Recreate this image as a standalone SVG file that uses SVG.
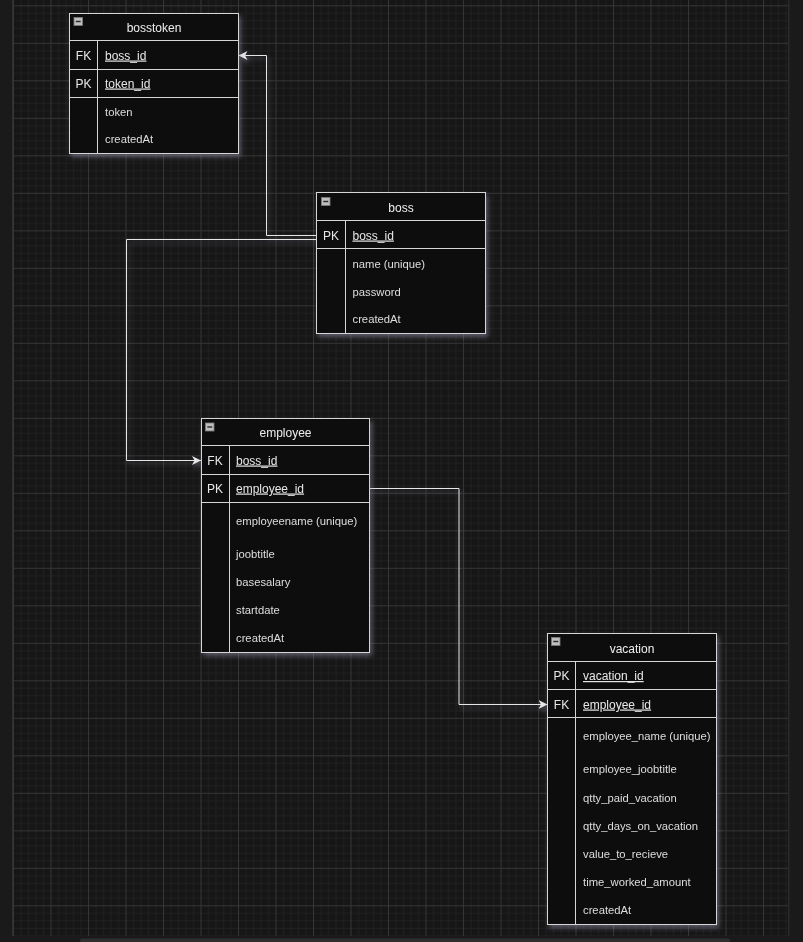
<svg xmlns="http://www.w3.org/2000/svg" width="803" height="942" viewBox="0 0 803 942">
  <defs>
    <style>
      .tbl { fill: #111111; stroke: #d6d6d6; stroke-width: 1; }
      .ln { stroke: #d6d6d6; stroke-width: 1; fill: none; }
      .title { font-family: "Liberation Sans", Arial, sans-serif; font-size: 12px; fill: #ededed; text-anchor: middle; }
      .key { font-family: "Liberation Sans", Arial, sans-serif; font-size: 12px; fill: #e6e6e6; text-anchor: middle; }
      .kattr { font-family: "Liberation Sans", Arial, sans-serif; font-size: 12px; fill: #e6e6e6; text-decoration: underline; }
      .attr { font-family: "Liberation Sans", Arial, sans-serif; font-size: 11.25px; fill: #dcdcdc; }
      .icon { fill: #bdbdbd; stroke: #7a7a7a; stroke-width: 0.8; }
      .iconln { stroke: #2a2a2a; stroke-width: 1.4; }
      .conn { stroke: #e6e6e6; stroke-width: 1; fill: none; }
    </style>
    <pattern id="grid" patternUnits="userSpaceOnUse" x="13" y="5.3" width="37.5" height="37.5">
      <rect x="0" y="0" width="37.5" height="37.5" fill="#161616"/>
      <rect x="7.5" y="0" width="1" height="37.5" fill="#202020"/>
      <rect x="15" y="0" width="1" height="37.5" fill="#202020"/>
      <rect x="22.5" y="0" width="1" height="37.5" fill="#202020"/>
      <rect x="30" y="0" width="1" height="37.5" fill="#202020"/>
      <rect x="0" y="7.5" width="37.5" height="1" fill="#202020"/>
      <rect x="0" y="15" width="37.5" height="1" fill="#202020"/>
      <rect x="0" y="22.5" width="37.5" height="1" fill="#202020"/>
      <rect x="0" y="30" width="37.5" height="1" fill="#202020"/>
      <rect x="0" y="0" width="1" height="37.5" fill="#353535"/>
      <rect x="0" y="0" width="37.5" height="1" fill="#353535"/>
    </pattern>
    <filter id="sh" x="-15%" y="-15%" width="140%" height="140%">
      <feGaussianBlur in="SourceAlpha" stdDeviation="2.5"/>
      <feOffset dx="2" dy="3" result="b"/>
      <feFlood flood-color="#a8a8c8" flood-opacity="0.45"/>
      <feComposite in2="b" operator="in"/>
      <feMerge><feMergeNode/><feMergeNode in="SourceGraphic"/></feMerge>
    </filter>
    <marker id="arr" markerUnits="userSpaceOnUse" markerWidth="10" markerHeight="10" refX="9" refY="4.5" orient="auto">
      <path d="M0,0 L9,4.5 L0,9 L2.5,4.5 Z" fill="#e6e6e6"/>
    </marker>
  </defs>

  <!-- background -->
  <rect x="0" y="0" width="803" height="942" fill="#1a1a1a"/>
  <rect x="12" y="0" width="777" height="936" fill="url(#grid)"/>
  <rect x="12" y="0" width="1" height="936" fill="#303030"/>
  <rect x="788" y="0" width="1.5" height="936" fill="#2a2a2a"/>
  <rect x="80" y="938.5" width="650" height="4" rx="2" fill="#2e2e2e"/>

  <!-- connectors -->
  <g id="connectors" filter="url(#sh)">
    <path class="conn" d="M316.5,235.5 H266.5 V55.5 H238.5" marker-end="url(#arr)"/>
    <path class="conn" d="M316.5,239.5 H126.5 V460.5 H201" marker-end="url(#arr)"/>
    <path class="conn" d="M369.5,488.5 H459 V704.5 H547.5" marker-end="url(#arr)"/>
  </g>

  <!-- bosstoken -->
  <g id="bosstoken" filter="url(#sh)">
    <rect class="tbl" x="69.5" y="13.5" width="169" height="140"/>
    <line class="ln" x1="69.5" y1="40.5" x2="238.5" y2="40.5"/>
    <line class="ln" x1="69.5" y1="69.5" x2="238.5" y2="69.5"/>
    <line class="ln" x1="69.5" y1="97.5" x2="238.5" y2="97.5"/>
    <line class="ln" x1="97.5" y1="40.5" x2="97.5" y2="153.5"/>
    <rect class="icon" x="74" y="17.5" width="8.5" height="8"/>
    <line class="iconln" x1="75.8" y1="21.5" x2="80.7" y2="21.5"/>
    <text class="title" x="154" y="31.5">bosstoken</text>
    <text class="key" x="83.5" y="59.5">FK</text>
    <text class="kattr" x="105" y="59.5">boss_id</text>
    <text class="key" x="83.5" y="87.5">PK</text>
    <text class="kattr" x="105" y="87.5">token_id</text>
    <text class="attr" x="105" y="116">token</text>
    <text class="attr" x="105" y="143">createdAt</text>
  </g>

  <!-- boss -->
  <g id="boss" filter="url(#sh)">
    <rect class="tbl" x="316.5" y="192.5" width="169" height="141"/>
    <line class="ln" x1="316.5" y1="220.5" x2="485.5" y2="220.5"/>
    <line class="ln" x1="316.5" y1="248.5" x2="485.5" y2="248.5"/>
    <line class="ln" x1="345.5" y1="220.5" x2="345.5" y2="333.5"/>
    <rect class="icon" x="321.5" y="197.5" width="8.5" height="8"/>
    <line class="iconln" x1="323.3" y1="201.5" x2="328.2" y2="201.5"/>
    <text class="title" x="401" y="211.5">boss</text>
    <text class="key" x="331" y="239.5">PK</text>
    <text class="kattr" x="352.5" y="239.5">boss_id</text>
    <text class="attr" x="352.5" y="267.5">name (unique)</text>
    <text class="attr" x="352.5" y="296">password</text>
    <text class="attr" x="352.5" y="323">createdAt</text>
  </g>

  <!-- employee -->
  <g id="employee" filter="url(#sh)">
    <rect class="tbl" x="201.5" y="418.5" width="168" height="234"/>
    <line class="ln" x1="201.5" y1="445.5" x2="369.5" y2="445.5"/>
    <line class="ln" x1="201.5" y1="474.5" x2="369.5" y2="474.5"/>
    <line class="ln" x1="201.5" y1="502.5" x2="369.5" y2="502.5"/>
    <line class="ln" x1="229.5" y1="445.5" x2="229.5" y2="652.5"/>
    <rect class="icon" x="205.5" y="423" width="8.5" height="8"/>
    <line class="iconln" x1="207.3" y1="427" x2="212.2" y2="427"/>
    <text class="title" x="285.5" y="436.5">employee</text>
    <text class="key" x="215" y="464.5">FK</text>
    <text class="kattr" x="236" y="464.5">boss_id</text>
    <text class="key" x="215" y="492.5">PK</text>
    <text class="kattr" x="236" y="492.5">employee_id</text>
    <text class="attr" x="236" y="525">employeename (unique)</text>
    <text class="attr" x="236" y="558">joobtitle</text>
    <text class="attr" x="236" y="586">basesalary</text>
    <text class="attr" x="236" y="614">startdate</text>
    <text class="attr" x="236" y="642">createdAt</text>
  </g>

  <!-- vacation -->
  <g id="vacation" filter="url(#sh)">
    <rect class="tbl" x="547.5" y="633.5" width="169" height="291"/>
    <line class="ln" x1="547.5" y1="661.5" x2="716.5" y2="661.5"/>
    <line class="ln" x1="547.5" y1="689.5" x2="716.5" y2="689.5"/>
    <line class="ln" x1="547.5" y1="717.5" x2="716.5" y2="717.5"/>
    <line class="ln" x1="575.5" y1="661.5" x2="575.5" y2="924.5"/>
    <rect class="icon" x="551.5" y="637.5" width="8.5" height="8"/>
    <line class="iconln" x1="553.3" y1="641.5" x2="558.2" y2="641.5"/>
    <text class="title" x="632" y="652.5">vacation</text>
    <text class="key" x="561.5" y="680">PK</text>
    <text class="kattr" x="583" y="680">vacation_id</text>
    <text class="key" x="561.5" y="708.5">FK</text>
    <text class="kattr" x="583" y="708.5">employee_id</text>
    <text class="attr" x="583" y="740">employee_name (unique)</text>
    <text class="attr" x="583" y="773">employee_joobtitle</text>
    <text class="attr" x="583" y="802">qtty_paid_vacation</text>
    <text class="attr" x="583" y="830">qtty_days_on_vacation</text>
    <text class="attr" x="583" y="858">value_to_recieve</text>
    <text class="attr" x="583" y="886">time_worked_amount</text>
    <text class="attr" x="583" y="914">createdAt</text>
  </g>
</svg>
